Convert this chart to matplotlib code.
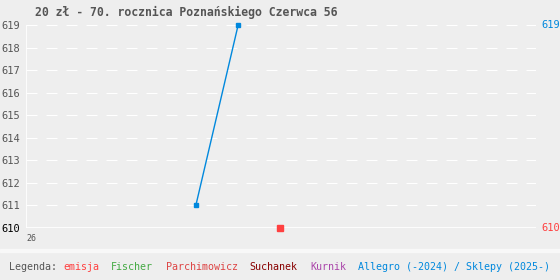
import matplotlib.pyplot as plt

# data
title = "20 zł - 70. rocznica Poznańskiego Czerwca 56"
yticks = [610, 611, 612, 613, 614, 615, 616, 617, 618, 619]
allegro_x = [33.3, 41.6]
allegro_y = [611, 619]
emisja_x = [49.8]
emisja_y = [610]
legend_names = ["emisja", "Fischer", "Parchimowicz", "Suchanek", "Kurnik",
                "Allegro (-2024) / Sklepy (2025-)"]
legend_colors = ["#ff4040", "#44aa44", "#dd4444", "#880000", "#aa44aa", "#0088dd"]

W, H = 560, 280
bg = "#eeeeee"
fig = plt.figure(figsize=(W / 100, H / 100), dpi=100, facecolor=bg)
ax = fig.add_axes([26 / W, 1 - 228 / H, (536 - 26) / W, (228 - 25) / H])
ax.set_facecolor(bg)
ax.set_xlim(0, 100)
ax.set_ylim(610, 619)
for s in ax.spines.values():
    s.set_visible(False)

for v in yticks:
    if v == 610:
        ax.axhline(v, color="white", lw=1.2, zorder=1)
    else:
        ax.axhline(v, color="white", lw=0.72, ls=(0, (11, 9)), zorder=1)
ax.axvline(0, color="white", lw=1.2, zorder=1)

ax.plot(allegro_x, allegro_y, color="#0088dd", lw=1, marker="s", ms=2.5,
        zorder=3, clip_on=False)
ax.plot(emisja_x, emisja_y, color="#ff4040", ls="none", marker="s", ms=4.5,
        zorder=3, clip_on=False)

mono = "DejaVu Sans Mono"
ax.set_yticks(yticks)
ax.set_yticklabels([str(v) for v in yticks], fontsize=7.5, family=mono, color="#555555")
ax.get_yticklabels()[0].set_color("black")
ax.tick_params(axis="y", length=0, pad=4)
ax.set_xticks([0])
ax.set_xticklabels(["26"], fontsize=6, family=mono, color="#555555", ha="left")
ax.tick_params(axis="x", length=0, pad=4)

ax.text(1.01, 619, str(allegro_y[-1]), transform=ax.get_yaxis_transform(),
        va="center", ha="left", fontsize=7.5, family=mono, color="#0088dd")
ax.text(1.01, 610, str(emisja_y[-1]), transform=ax.get_yaxis_transform(),
        va="center", ha="left", fontsize=7.5, family=mono, color="#ff4040")

fig.text(35 / W, 1 - 12 / H, title, fontsize=8.3, family=mono, weight="bold",
         color="#555555", va="center", ha="left")

# legend strip
fig.patches.append(plt.Rectangle((0, 1 - 252 / H), 1, 3 / H, transform=fig.transFigure,
                                 color="#f8f8f8", zorder=0))
cw = 6.02
x = 9
fig.text(x / W, 1 - 267 / H, "Legenda:", fontsize=7.2, family=mono, color="#555555",
         va="center", ha="left")
x += cw * 9
for name, c in zip(legend_names, legend_colors):
    fig.text(x / W, 1 - 267 / H, name, fontsize=7.2, family=mono, color=c,
             va="center", ha="left")
    x += cw * (len(name) + 2)

fig.savefig("out.png", dpi=100, facecolor=bg)
